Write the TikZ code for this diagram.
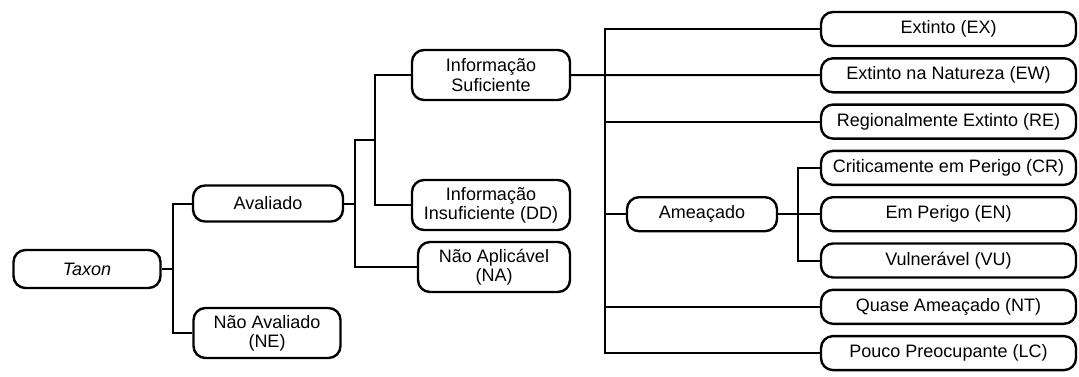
\documentclass[tikz,border=0pt]{standalone}
\usepackage{fontspec}
\setmainfont{Liberation Sans}
\begin{document}
\begin{tikzpicture}[x=0.5pt, y=-0.5pt,
    box_style/.style={draw=black, line width=1.2pt, rounded corners=6pt, fill=white, inner sep=0pt, align=center, font=\fontsize{9}{9.6}\selectfont},
    cat_style/.style={box_style, minimum width=127.5pt, minimum height=17pt},
    edge_style/.style={draw=black, line width=1pt}]
      \useasboundingbox (0,0) rectangle (1079,376);
      \draw
        (87, 269) node[box_style, minimum width=73.5pt, minimum height=19pt] (taxon){\itshape Taxon}
        (268, 203.5) node[box_style, minimum width=75pt, minimum height=18pt] (aval){Avaliado}
        (267, 333) node[box_style, minimum width=73.5pt, minimum height=25pt] (ne){Não Avaliado\\(NE)}
        (491, 75) node[box_style, minimum width=79pt, minimum height=25pt] (infsuf){Informação\\Suficiente}
        (491, 205) node[box_style, minimum width=79pt, minimum height=25pt] (infinsuf){Informação\\Insuficiente (DD)}
        (494, 267) node[box_style, minimum width=76pt, minimum height=25pt] (na){Não Aplicável\\(NA)}
        (702, 214.2) node[box_style, minimum width=75pt, minimum height=17pt] (amea){Ameaçado}
        (948.5, 29) node[cat_style] (ex){Extinto (EX)}
        (948.5, 75.3) node[cat_style] (ew){Extinto na Natureza (EW)}
        (948.5, 121.6) node[cat_style] (re){Regionalmente Extinto (RE)}
        (948.5, 167.9) node[cat_style] (cr){Criticamente em Perigo (CR)}
        (948.5, 214.2) node[cat_style] (en){Em Perigo (EN)}
        (948.5, 260.5) node[cat_style] (vu){Vulnerável (VU)}
        (948.5, 306.8) node[cat_style] (nt){Quase Ameaçado (NT)}
        (948.5, 353.1) node[cat_style] (lc){Pouco Preocupante (LC)};
      \coordinate (b1) at (173, 269);
      \coordinate (b2) at (355, 203.5);
      \coordinate (b3) at (375, 140);
      \coordinate (b4) at (605, 75.3);
      \coordinate (b5) at (798, 214.2);
      \begin{scope}
        \draw[edge_style] (taxon) -- (b1);
        \draw[edge_style] (b1) |- (aval);
        \draw[edge_style] (b1) |- (ne);
        \draw[edge_style] (aval) -- (b2);
        \draw[edge_style] (b2) |- (b3);
        \draw[edge_style] (b3) |- (infsuf);
        \draw[edge_style] (b3) |- (infinsuf);
        \draw[edge_style] (b2) |- (na);
        \draw[edge_style] (infsuf) -- (ew);
        \draw[edge_style] (b4) |- (ex);
        \draw[edge_style] (b4) |- (re);
        \draw[edge_style] (b4) |- (amea);
        \draw[edge_style] (b4) |- (nt);
        \draw[edge_style] (b4) |- (lc);
        \draw[edge_style] (amea) -- (b5);
        \draw[edge_style] (b5) |- (cr);
        \draw[edge_style] (b5) |- (en);
        \draw[edge_style] (b5) |- (vu);
      \end{scope}
    \end{tikzpicture}
\end{document}
